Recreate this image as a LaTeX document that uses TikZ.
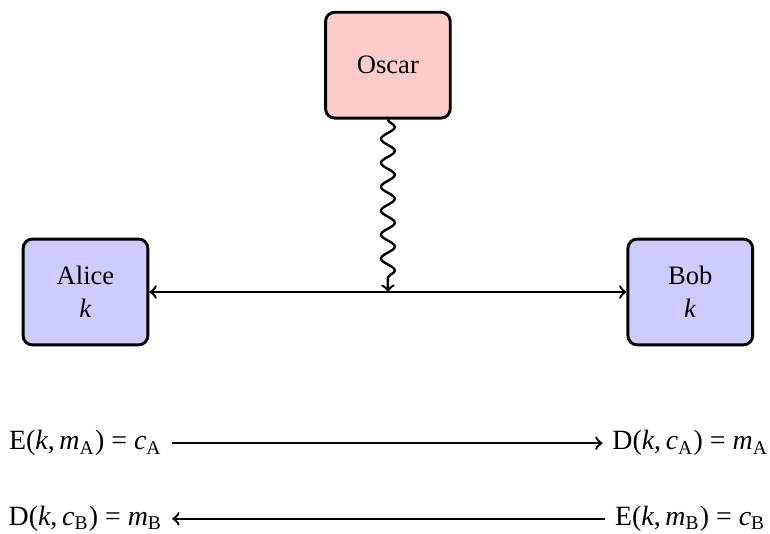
\documentclass[tikz,border=0pt]{standalone}
\usepackage{fontspec}
\setmainfont{Liberation Serif}
\usetikzlibrary{decorations.pathmorphing}
\newcommand{\vr}[1]{\textit{#1}}
\newcommand{\sbs}[1]{\textsubscript{#1}}
\begin{document}
\begin{tikzpicture}[
  party/.style={draw, line width=1.1pt, rounded corners=3.5pt, minimum width=1.65cm, minimum height=1.4cm, align=center, fill=blue!20, font=\fontsize{10}{12.5}\selectfont},
  eve/.style={party, fill=red!20},
  link/.style={line width=0.9pt},
  eqn/.style={inner sep=3.5pt, font=\fontsize{10.5}{12.5}\selectfont}
]
\useasboundingbox (-1.131,-3.201) rectangle (9.054,3.862);
\node[party] (alice) at (0,0) {Alice\\\vr{k}};
\node[party] (bob) at (8,0) {Bob\\\vr{k}};
\node[eve] (oscar) at (4,3) {Oscar};
\coordinate (hit) at (4,0);
\draw[link, <->] (alice) -- (bob);
\draw[link, ->, decorate, decoration={snake, amplitude=2.6pt, segment length=9pt, post length=3pt}] (oscar) -- (hit);
\node[eqn] (ea) at (0,-2) {E(\vr{k},\,\vr{m}\sbs{A})~=~\vr{c}\sbs{A}};
\node[eqn] (da) at (8,-2) {D(\vr{k},\,\vr{c}\sbs{A})~=~\vr{m}\sbs{A}};
\node[eqn] (db) at (0,-3) {D(\vr{k},\,\vr{c}\sbs{B})~=~\vr{m}\sbs{B}};
\node[eqn] (eb) at (8,-3) {E(\vr{k},\,\vr{m}\sbs{B})~=~\vr{c}\sbs{B}};
\draw[link, ->] (ea) -- (da);
\draw[link, <-] (db) -- (eb);
\end{tikzpicture}
\end{document}
